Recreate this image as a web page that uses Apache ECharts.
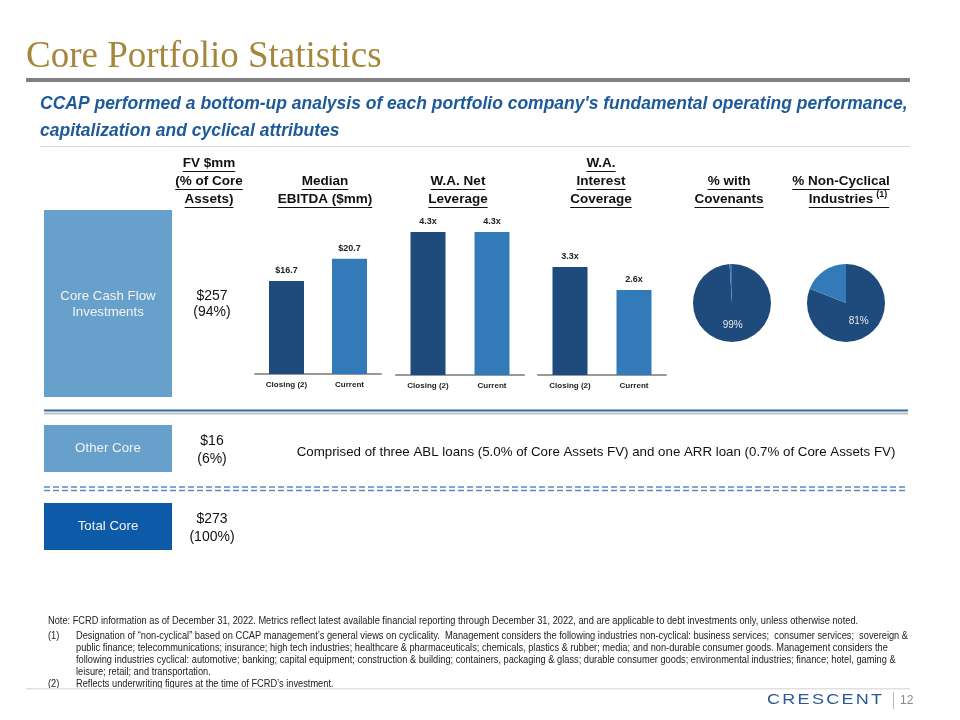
<!DOCTYPE html>
<html><head><meta charset="utf-8">
<script src="https://cdn.jsdelivr.net/npm/echarts@6/dist/echarts.min.js"></script>
<style>html,body{margin:0;padding:0;background:#fff}#c{width:960px;height:720px}</style>
</head><body><div id="c"></div>
<script>
// ---- data ----
const categories = ['Closing (2)', 'Current'];
const ebitda = [16.7, 20.7];
const leverage = [4.3, 4.3];
const coverage = [3.3, 2.6];
const covenants = [99, 1];
const nonCyclical = [81, 19];
const rowNames = ['Core Cash Flow\nInvestments', 'Other Core', 'Total Core'];
const rowFV = ['$257', '$16', '$273'];
const rowPct = ['(94%)', '(6%)', '(100%)'];
const headers = [
  ['FV $mm', '(% of Core', 'Assets)'],
  ['Median', 'EBITDA ($mm)'],
  ['W.A. Net', 'Leverage'],
  ['W.A.', 'Interest', 'Coverage'],
  ['% with', 'Covenants'],
  ['% Non-Cyclical', 'Industries']
];
const otherCoreNote = 'Comprised of three ABL loans (5.0% of Core Assets FV) and one ARR loan (0.7% of Core Assets FV)';
const footnotes = [
  'Note: FCRD information as of December 31, 2022. Metrics reflect latest available financial reporting through December 31, 2022, and are applicable to debt investments only, unless otherwise noted.',
  'Designation of \u201cnon-cyclical\u201d based on CCAP management\u2019s general views on cyclicality.  Management considers the following industries non-cyclical: business services;  consumer services;  sovereign &',
  'public finance; telecommunications; insurance; high tech industries; healthcare & pharmaceuticals; chemicals, plastics & rubber; media; and non-durable consumer goods. Management considers the',
  'following industries cyclical: automotive; banking; capital equipment; construction & building; containers, packaging & glass; durable consumer goods; environmental industries; finance; hotel, gaming &',
  'leisure; retail; and transportation.',
  'Reflects underwriting figures at the time of FCRD\u2019s investment.'
];

// ---- styles ----
const DARK = '#1f4a7c', LIGHT = '#337ab8';
const chart = echarts.init(document.getElementById('c'), null, {renderer: 'canvas'});
const ctx = document.createElement('canvas').getContext('2d');
function tw(text, font) { ctx.font = font; return ctx.measureText(text).width; }

const g = [];
// title
g.push({type:'text', style:{text:'Core Portfolio Statistics', x:26, y:76, textVerticalAlign:'bottom', font:'37px "Liberation Serif"', fill:'#a5873c'}});
g.push({type:'rect', shape:{x:26, y:78, width:884, height:4}, style:{fill:'#808080'}});
g.push({type:'text', style:{text:"CCAP performed a bottom-up analysis of each portfolio company's fundamental operating performance,\ncapitalization and cyclical attributes", x:40, y:91, lineHeight:27, font:'italic bold 17.5px "Liberation Sans"', fill:'#1c5a9a'}});
g.push({type:'rect', shape:{x:40, y:146, width:870, height:1}, style:{fill:'#d9d9d9'}});

// headers
const hx = [209, 325, 458, 601, 729, 841];
const hFont = 'bold 13.5px "Liberation Sans"';
headers.forEach((lines, i) => {
  const n = lines.length;
  lines.forEach((t, j) => {
    const yc = 199 - (n - 1 - j) * 18;
    g.push({type:'text', style:{text:t, x:hx[i], y:yc, textAlign:'center', textVerticalAlign:'middle', font:hFont, fill:'#111'}});
    const w = tw(t, hFont);
    g.push({type:'line', shape:{x1:hx[i]-w/2, y1:yc+8.5, x2:hx[i]+w/2 + (i===5 && j===1 ? 16 : 0), y2:yc+8.5}, style:{stroke:'#111', lineWidth:1}});
  });
});
// superscript (1)
const indW = tw('Industries', hFont);
g.push({type:'text', style:{text:'(1)', x:841+indW/2+3, y:195, textVerticalAlign:'middle', font:'bold 9px "Liberation Sans"', fill:'#111'}});

// row boxes
const boxes = [
  {y:210, h:187, fill:'#68a0cc'},
  {y:425, h:47, fill:'#68a0cc'},
  {y:503, h:47, fill:'#0d5ba8'}
];
boxes.forEach((b, i) => {
  g.push({type:'rect', shape:{x:44, y:b.y, width:128, height:b.h}, style:{fill:b.fill}});
  g.push({type:'text', style:{text:rowNames[i], x:108, y:i===0 ? 304 : b.y+b.h/2, textAlign:'center', textVerticalAlign:'middle', lineHeight:16, font:'13.3px "Liberation Sans"', fill:'#f2f2f2'}});
  g.push({type:'text', style:{text:rowFV[i] + '\n' + rowPct[i], x:212, y:i===0 ? 304 : b.y+b.h/2+2, textAlign:'center', textVerticalAlign:'middle', lineHeight:i===0 ? 16 : 18, font:'14px "Liberation Sans"', fill:'#111'}});
});
g.push({type:'text', style:{text:otherCoreNote, x:596, y:452, textAlign:'center', textVerticalAlign:'middle', font:'13.3px "Liberation Sans"', fill:'#111'}});

// separators
g.push({type:'line', shape:{x1:44, y1:410.5, x2:908, y2:410.5}, style:{stroke:'#2d6aa6', lineWidth:2}});
g.push({type:'line', shape:{x1:44, y1:413.5, x2:908, y2:413.5}, style:{stroke:'#c0c0c0', lineWidth:2}});
g.push({type:'line', shape:{x1:44, y1:487, x2:908, y2:487}, style:{stroke:'#5b8cc2', lineWidth:1.5, lineDash:[6,3]}});
g.push({type:'line', shape:{x1:44, y1:490.5, x2:908, y2:490.5}, style:{stroke:'#5b8cc2', lineWidth:1.5, lineDash:[6,3]}});

// footnotes (condensed to fit)
const fFont = '10px "Liberation Sans"';
const fScale = 832 / tw(footnotes[1], fFont);
const fy = [621, 636, 648, 660, 672, 684];
function ftext(t, x, y) {
  g.push({type:'text', x:x, y:y, scaleX:fScale, style:{text:t, x:0, y:0, textVerticalAlign:'middle', font:fFont, fill:'#222'}});
}
footnotes.forEach((t, i) => ftext(t, i === 0 ? 48 : 76, fy[i]));
ftext('(1)', 48, fy[1]);
ftext('(2)', 48, fy[5]);
g.push({type:'rect', shape:{x:26, y:688, width:884, height:1.5}, style:{fill:'#e0e0e0'}});

// logo
const lFont = '15px "Liberation Sans"', lScale = 1.2, lGap = 2.3;
let lx = 767;
'CRESCENT'.split('').forEach(ch => {
  g.push({type:'text', x:lx, y:700, scaleX:lScale, style:{text:ch, x:0, y:0, textVerticalAlign:'middle', font:lFont, fill:'#2b5896'}});
  lx += tw(ch, lFont) * lScale + lGap;
});
g.push({type:'line', shape:{x1:893.5, y1:692, x2:893.5, y2:709}, style:{stroke:'#bbb', lineWidth:1}});
g.push({type:'text', style:{text:'12', x:900, y:701, textVerticalAlign:'middle', font:'12px "Liberation Sans"', fill:'#888'}});

// ---- charts ----
const grids = [
  {left:255, top:218, width:126, height:156},
  {left:396, top:219, width:128, height:156},
  {left:538, top:219, width:128, height:156}
];
const maxes = [28, 4.69, 4.77];
const dataSets = [ebitda, leverage, coverage];
const fmts = [v => '$' + v.toFixed(1), v => v.toFixed(1) + 'x', v => v.toFixed(1) + 'x'];

const option = {
  animation: false,
  backgroundColor: '#fff',
  graphic: g,
  grid: grids,
  xAxis: grids.map((_, i) => ({
    type:'category', gridIndex:i, data:categories,
    axisLine:{show:true, lineStyle:{color:'#999', width:2}},
    axisTick:{show:false},
    axisLabel:{color:'#222', fontWeight:'bold', fontSize:8, fontFamily:'Liberation Sans', margin:7}
  })),
  yAxis: grids.map((_, i) => ({type:'value', gridIndex:i, min:0, max:maxes[i], show:false, splitLine:{show:false}})),
  series: [
    ...dataSets.map((d, i) => ({
      type:'bar', xAxisIndex:i, yAxisIndex:i, barWidth:35,
      data: d.map((v, j) => ({value:v, itemStyle:{color: j === 0 ? DARK : LIGHT}})),
      label:{show:true, position:'top', distance:6, formatter: p => fmts[i](p.value), color:'#222', fontWeight:'bold', fontSize:9, fontFamily:'Liberation Sans'}
    })),
    ...[covenants, nonCyclical].map((d, i) => ({
      type:'pie', center:[i === 0 ? 732 : 846, 303], radius:39, startAngle:90, clockwise:true,
      silent:true,
      data: d.map((v, j) => ({value:v, itemStyle:{color: j === 0 ? DARK : LIGHT},
        label:{show: j === 0}})),
      label:{position:'inside', formatter: p => p.value + '%', color:'#e8e8e8', fontSize:10, fontFamily:'Liberation Sans'},
      labelLine:{show:false}
    }))
  ]
};
chart.setOption(option);
</script>
</body></html>
